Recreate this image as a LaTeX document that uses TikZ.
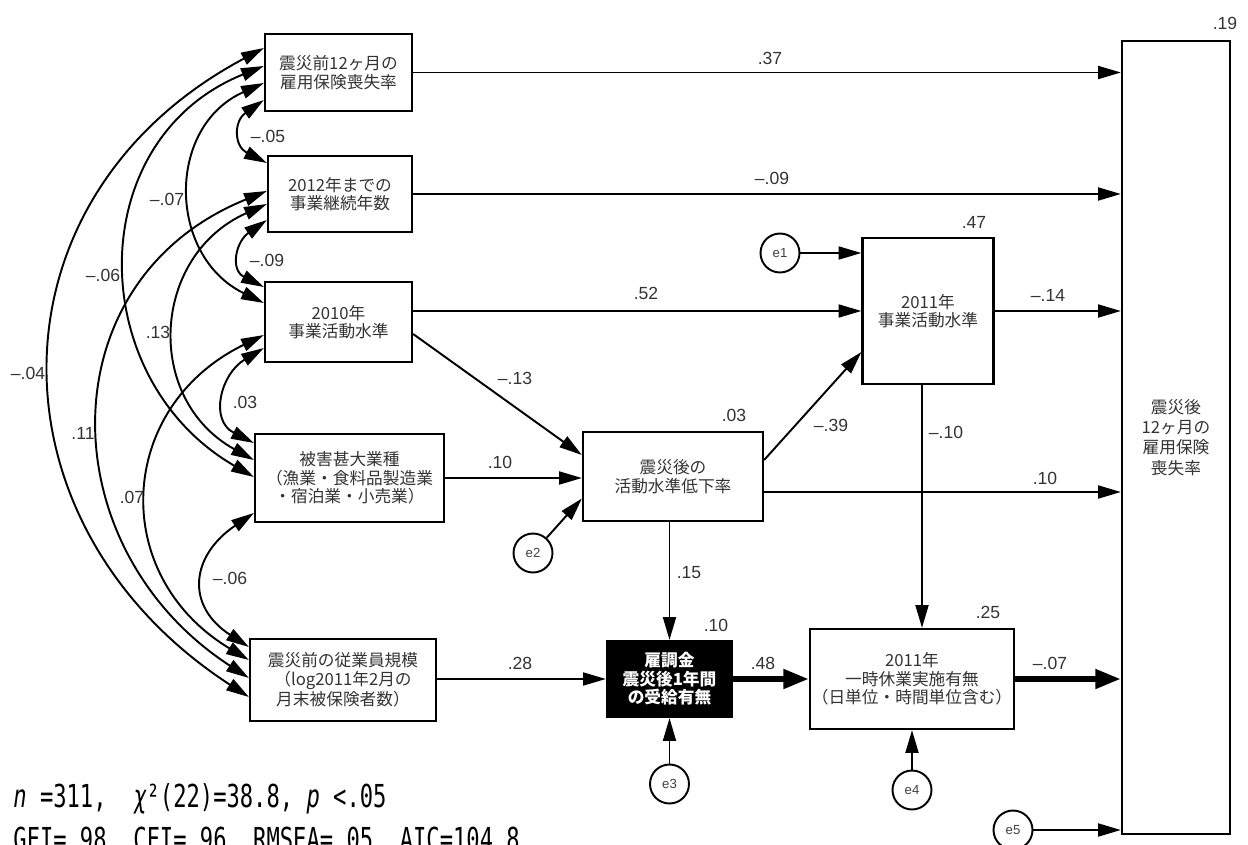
\documentclass[tikz,border=0pt]{standalone}
\usepackage{fontspec}
\setmainfont{Noto Sans CJK JP}
\newfontfamily\numfont{Liberation Sans}
\newfontfamily\statfont[FakeStretch=0.70]{DejaVu Sans Mono}
\usepackage{tikz}
\usetikzlibrary{shapes, arrows.meta, positioning}
\usetikzlibrary{calc}

\begin{document}
\begin{tikzpicture}
  [
    x=0.02cm, y=-0.02cm,
    >={Triangle[length=13pt,width=7.4pt]},
    Box/.style={rectangle, draw=black, line width=1.3pt, align=center, inner sep=1pt, text=black!80, font=\fontsize{9.5}{10.5}\selectfont},
    Dark/.style={Box, fill=black, text=white, font=\fontsize{9.5}{10.5}\selectfont\bfseries},
    Err/.style={circle, draw=black, line width=1.1pt, minimum size=0.78cm, inner sep=0pt, text=black!75, font=\numfont\fontsize{7.5}{8}\selectfont},
    Coef/.style={inner sep=0pt, text=black!80, font=\numfont\fontsize{10}{12}\selectfont},
    Stat/.style={inner sep=0pt, anchor=base west, font=\statfont\fontsize{18}{20}\selectfont},
    Reg/.style={->, draw, line width=1.1pt},
    Cor/.style={<->, draw, line width=1.1pt},
    Heavy/.style={-{Triangle[length=14.5pt,width=10.5pt]}, draw, line width=3.4pt}
  ]
  \useasboundingbox (0,0) rectangle (1248,845);

  % Nodes
  \node[Box, minimum width=2.94cm, minimum height=1.54cm] (loss0) at (338.5,72.5) {震災前12ヶ月の\\雇用保険喪失率};
  \node[Box, minimum width=2.88cm, minimum height=1.52cm] (years) at (340,194) {2012年までの\\事業継続年数};
  \node[Box, minimum width=2.94cm, minimum height=1.6cm] (lvl10) at (338.5,322) {2010年\\事業活動水準};
  \node[Box, minimum width=3.78cm, minimum height=1.76cm] (dmg) at (349.5,478) {被害甚大業種\\（漁業・食料品製造業\\・宿泊業・小売業）};
  \node[Box, minimum width=3.72cm, minimum height=1.64cm] (size) at (343,680) {震災前の従業員規模\\（log2011年2月の\\月末被保険者数）};

  \node[Box, minimum width=3.6cm, minimum height=1.78cm] (drop) at (673,476.5) {震災後の\\活動水準低下率};
  \node[Box, minimum width=2.62cm, minimum height=2.92cm] (lvl11) at (928,311) {2011年\\事業活動水準};
  \node[Dark, minimum width=2.5cm, minimum height=1.52cm] (subs) at (669.5,679) {雇調金\\震災後1年間\\の受給有無};
  \node[Box, minimum width=3.76cm, minimum height=2cm] (leave) at (912,679) {2011年\\一時休業実施有無\\（日単位・時間単位含む）};
  \node[Box, minimum width=2.16cm, minimum height=15.86cm, font=\fontsize{9.5}{11.5}\selectfont] (loss1) at (1176,437.5) {震災後\\12ヶ月の\\雇用保険\\喪失率};

  \node[Err] (e1) at (780,253) {e1};
  \node[Err] (e2) at (533,553) {e2};
  \node[Err] (e3) at (669.5,784) {e3};
  \node[Err] (e4) at (912,790) {e4};
  \node[Err] (e5) at (1013,830) {e5};

  \coordinate (gi) at ($(lvl11.south)+(-6,0)$);

  % Lines
  \path [Reg] (loss0.east) -- (loss0.east -| loss1.west);
  \path [Reg] (years.east) -- (years.east -| loss1.west);
  \path [Reg] (lvl10.east |- lvl11.west) -- (lvl11.west);
  \path [Reg] (lvl11.east) -- (lvl11.east -| loss1.west);
  \path [Reg] (e1) -- (e1 -| lvl11.west);
  \path [Reg] ($(lvl10.east)+(0,12)$) -- ($(drop.west)+(0,-21.5)$);
  \path [Reg] (dmg.east) -- (dmg.east -| drop.west);
  \path [Reg] (e2) -- ($(drop.west)+(0,22)$);
  \path [Reg] ($(drop.east)+(0,-16.5)$) -- ($(lvl11.west)+(0,41)$);
  \path [Reg] ($(drop.east)+(0,15.5)$) -- ($(drop.east -| loss1.west)+(0,15.5)$);
  \path [Reg] (subs |- drop.south) -- (subs.north);
  \path [Reg] (gi) -- (gi |- leave.north);
  \path [Reg] (size.east |- subs) -- (subs.west);
  \path [Heavy] (subs.east) -- (subs.east -| leave.west);
  \path [Heavy] (leave.east) -- (leave.east -| loss1.west);
  \path [Reg] (e3) -- (subs);
  \path [Reg] (e4) -- (leave);
  \path [Reg] (e5) -- (e5 -| loss1.west);

  % Correlations
  \path [Cor] ($(loss0.west)+(0,27.5)$) to[out=215,in=153,looseness=1.5] ($(years.west)+(0,-31)$);
  \path [Cor] ($(years.west)+(0,26)$) to[out=215,in=153,looseness=1.45] ($(lvl10.west)+(0,-35)$);
  \path [Cor] ($(lvl10.west)+(0,26)$) to[out=211,in=153,looseness=1.35] ($(dmg.west)+(0,-35)$);
  \path [Cor] ($(dmg.west)+(0,35)$) to[out=214,in=147,looseness=1.45] ($(size.west)+(0,-33)$);
  \path [Cor] ($(loss0.west)+(0,10.5)$) to[out=204,in=154,looseness=1.25] ($(lvl10.west)+(0,-19)$);
  \path [Cor] ($(years.west)+(0,10)$) to[out=204,in=151,looseness=1.26] ($(dmg.west)+(0,-18)$);
  \path [Cor] ($(lvl10.west)+(0,13)$) to[out=206,in=149,looseness=1.29] ($(size.west)+(0,-20)$);
  \path [Cor] ($(loss0.west)+(0,-6.5)$) to[out=202,in=150,looseness=1.22] ($(dmg.west)+(0,-1)$);
  \path [Cor] ($(years.west)+(0,-3)$) to[out=202,in=147,looseness=1.25] ($(size.west)+(0,-2)$);
  \path [Cor] ($(loss0.west)+(0,-24.5)$) to[out=208,in=147,looseness=1.25] ($(size.west)+(0,17)$);

  % Coefficients
  \node[Coef] (wAJ) at (770,58) {.37};
  \node[Coef] (wBJ) at (772,178) {–.09};
  \node[Coef] (wCG) at (646,293) {.52};
  \node[Coef] (wCF) at (515,378) {–.13};
  \node[Coef] (wDF) at (500,462) {.10};
  \node[Coef] (wFG) at (831,425) {–.39};
  \node[Coef] (wGJ) at (1048,295) {–.14};
  \node[Coef] (wFJ) at (1045,478) {.10};
  \node[Coef] (wGI) at (946,432) {–.10};
  \node[Coef] (wFH) at (689,573) {.15};
  \node[Coef] (wEH) at (520,663) {.28};
  \node[Coef] (wHI) at (763,663) {.48};
  \node[Coef] (wIJ) at (1050,663) {–.07};

  \node[Coef] (rF) at (734,415) {.03};
  \node[Coef] (rG) at (974,222) {.47};
  \node[Coef] (rH) at (716,625) {.10};
  \node[Coef] (rI) at (988,612) {.25};
  \node[Coef] (rJ) at (1225,23) {.19};

  \node[Coef] (cAB) at (268,136) {–.05};
  \node[Coef] (cBC) at (267,260) {–.09};
  \node[Coef] (cAC) at (167,199) {–.07};
  \node[Coef] (cAD) at (103,275) {–.06};
  \node[Coef] (cBD) at (158,332) {.13};
  \node[Coef] (cAE) at (28,373) {–.04};
  \node[Coef] (cCD) at (245,402) {.03};
  \node[Coef] (cBE) at (83,433) {.11};
  \node[Coef] (cCE) at (132,497) {.07};
  \node[Coef] (cDE) at (230,578) {–.06};

  % Fit
  \node[Stat] (fit1) at (13,807) {{\itshape n} =311,\ \ {\itshape χ}²(22)=38.8,\ {\itshape p} <.05};
  \node[Stat] (fit2) at (13,850) {GFI=.98,\ CFI=.96,\ RMSEA=.05,\ AIC=104.8};

\end{tikzpicture}
\end{document}
